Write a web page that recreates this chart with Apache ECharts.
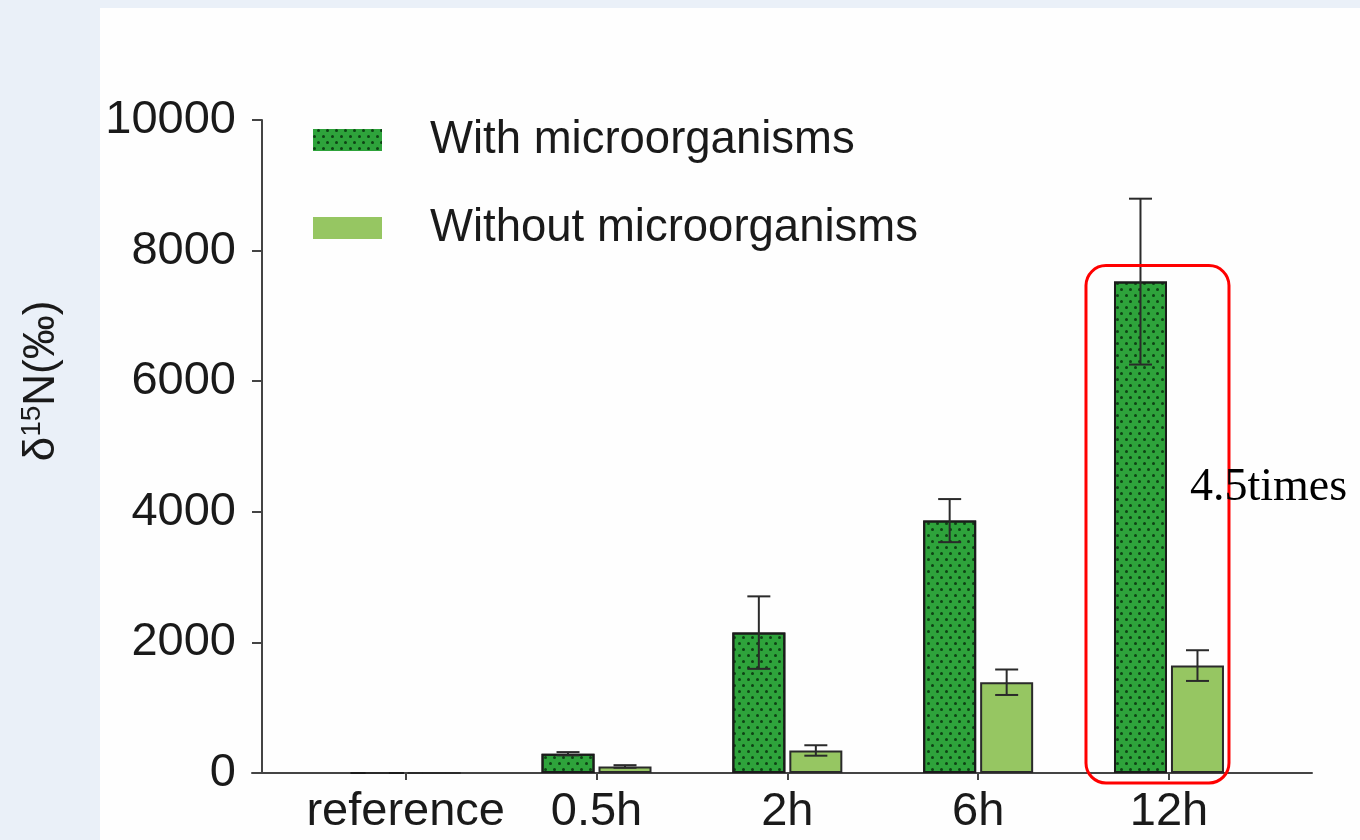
<!DOCTYPE html>
<html><head><meta charset="utf-8">
<script src="https://cdn.jsdelivr.net/npm/echarts@6/dist/echarts.min.js"></script>
<style>html,body{margin:0;padding:0;background:#fff}#c{width:1360px;height:840px}</style>
</head><body><div id="c"></div>
<script>
const categories = ['reference', '0.5h', '2h', '6h', '12h'];
const seriesNames = ['With microorganisms', 'Without microorganisms'];
const withMicro = [0, 295, 2150, 3865, 7525];
const withMicroErr = [0, 25, 555, 330, 1270];
const withoutMicro = [0, 100, 345, 1390, 1645];
const withoutMicroErr = [0, 20, 80, 195, 235];
const yTicks = [0, 2000, 4000, 6000, 8000, 10000];
const annotationText = '4.5times';
const annotationCategory = 4;

const FONT = '"Liberation Sans", Arial, sans-serif';
const AXIS = '#444';
const TEXT = '#1a1a1a';
const CAP = 11.5;
const HALF = 28.5;

const chart = echarts.init(document.getElementById('c'), null, {renderer: 'canvas'});

function errSeries(name, means, errs, dx) {
  return {
    type: 'custom', name: name + ' err', silent: true, z: 5,
    data: means.map((m, i) => [i, m, errs[i]]),
    renderItem(params, api) {
      const x = api.value(0), m = api.value(1), e = api.value(2);
      const top = api.coord([x, m + e]);
      const bot = api.coord([x, Math.max(0, m - e)]);
      const cx = top[0] + dx;
      const st = {stroke: '#2a2a2a', lineWidth: 2};
      return {type: 'group', children: [
        {type: 'line', shape: {x1: cx, y1: top[1], x2: cx, y2: bot[1]}, style: st},
        {type: 'line', shape: {x1: cx - CAP, y1: top[1], x2: cx + CAP, y2: top[1]}, style: st},
        {type: 'line', shape: {x1: cx - CAP, y1: bot[1], x2: cx + CAP, y2: bot[1]}, style: st}
      ]};
    }
  };
}

const darkDecal = {
  symbol: 'circle', symbolSize: 1, color: 'rgba(8,50,14,0.85)',
  dashArrayX: [[2.4, 5.6], [0, 4, 2.4, 1.6]], dashArrayY: [2.4, 2.6], rotation: 0
};

const option = {
  backgroundColor: '#eaf0f8',
  animation: false,
  grid: {left: 252, right: 48, top: 120, bottom: 67, containLabel: false},
  legend: {
    data: seriesNames, orient: 'vertical', left: 313, top: 117, padding: 0,
    itemWidth: 69, itemHeight: 22, itemGap: 42, icon: 'rect', selectedMode: false,
    itemStyle: {borderWidth: 0},
    textStyle: {fontSize: 45.5, lineHeight: 44, color: TEXT, fontFamily: FONT, padding: [0, 0, 0, 43]}
  },
  xAxis: {
    type: 'value', min: -0.8055, max: 4.7495,
    axisLine: {show: true, onZero: false, lineStyle: {color: AXIS, width: 2}},
    splitLine: {show: false},
    axisTick: {show: true, customValues: [0, 1, 2, 3, 4], length: 7, lineStyle: {color: AXIS, width: 2}},
    axisLabel: {customValues: [0, 1, 2, 3, 4], formatter: v => categories[Math.round(v)],
      fontSize: 47, color: TEXT, margin: 16, fontFamily: FONT}
  },
  yAxis: {
    type: 'value', min: 0, max: 10000, interval: 2000, offset: -10,
    axisLine: {show: true, onZero: false, lineStyle: {color: AXIS, width: 2}},
    axisTick: {show: true, length: 10, lineStyle: {color: AXIS, width: 2}},
    axisLabel: {fontSize: 47, color: TEXT, margin: 26, fontFamily: FONT, formatter: v => String(v)},
    splitLine: {show: false}
  },
  series: [
    {
      name: seriesNames[0], type: 'bar', barWidth: 53, barGap: '7.5%', z: 3,
      data: withMicro.map((v, i) => [i, v]),
      itemStyle: {color: '#2ea33b', borderColor: '#1b1b1b', borderWidth: 2, decal: darkDecal}
    },
    {
      name: seriesNames[1], type: 'bar', barWidth: 53, barGap: '7.5%', z: 3,
      data: withoutMicro.map((v, i) => [i, v]),
      itemStyle: {color: '#96c662', borderColor: '#2a2a2a', borderWidth: 2}
    },
    errSeries(seriesNames[0], withMicro, withMicroErr, -HALF),
    errSeries(seriesNames[1], withoutMicro, withoutMicroErr, HALF)
  ]
};
chart.setOption(option);

const base = chart.convertToPixel({xAxisIndex: 0, yAxisIndex: 0}, [annotationCategory, 0]);
const topPt = chart.convertToPixel({xAxisIndex: 0, yAxisIndex: 0}, [annotationCategory, withMicro[annotationCategory]]);
chart.setOption({
  graphic: [
    {type: 'rect', z: -100, silent: true, shape: {x: 100, y: 8, width: 1260, height: 832}, style: {fill: '#fefefe'}},
    {type: 'text', z: 100, silent: true, x: 42, y: 381, rotation: Math.PI / 2,
      style: {text: '{a|δ}{b|15}{a|N(‰)}', align: 'center', verticalAlign: 'middle', fill: TEXT,
        rich: {a: {fontSize: 44, lineHeight: 48, fontFamily: FONT, fill: TEXT},
               b: {fontSize: 28, lineHeight: 30, verticalAlign: 'top', fontFamily: FONT, fill: TEXT}}}},
    {type: 'rect', z: 90, silent: true,
      shape: {x: base[0] - 83, y: topPt[1] - 16, width: 143, height: base[1] + 10 - (topPt[1] - 16), r: 20},
      style: {fill: 'none', stroke: '#ff0000', lineWidth: 3}},
    {type: 'text', z: 100, silent: true, x: base[0] + 21, y: base[1] - 285,
      style: {text: annotationText, font: '46px "Liberation Serif", "Times New Roman", serif', fill: '#000',
        align: 'left', verticalAlign: 'middle'}}
  ]
});
</script>
</body></html>
